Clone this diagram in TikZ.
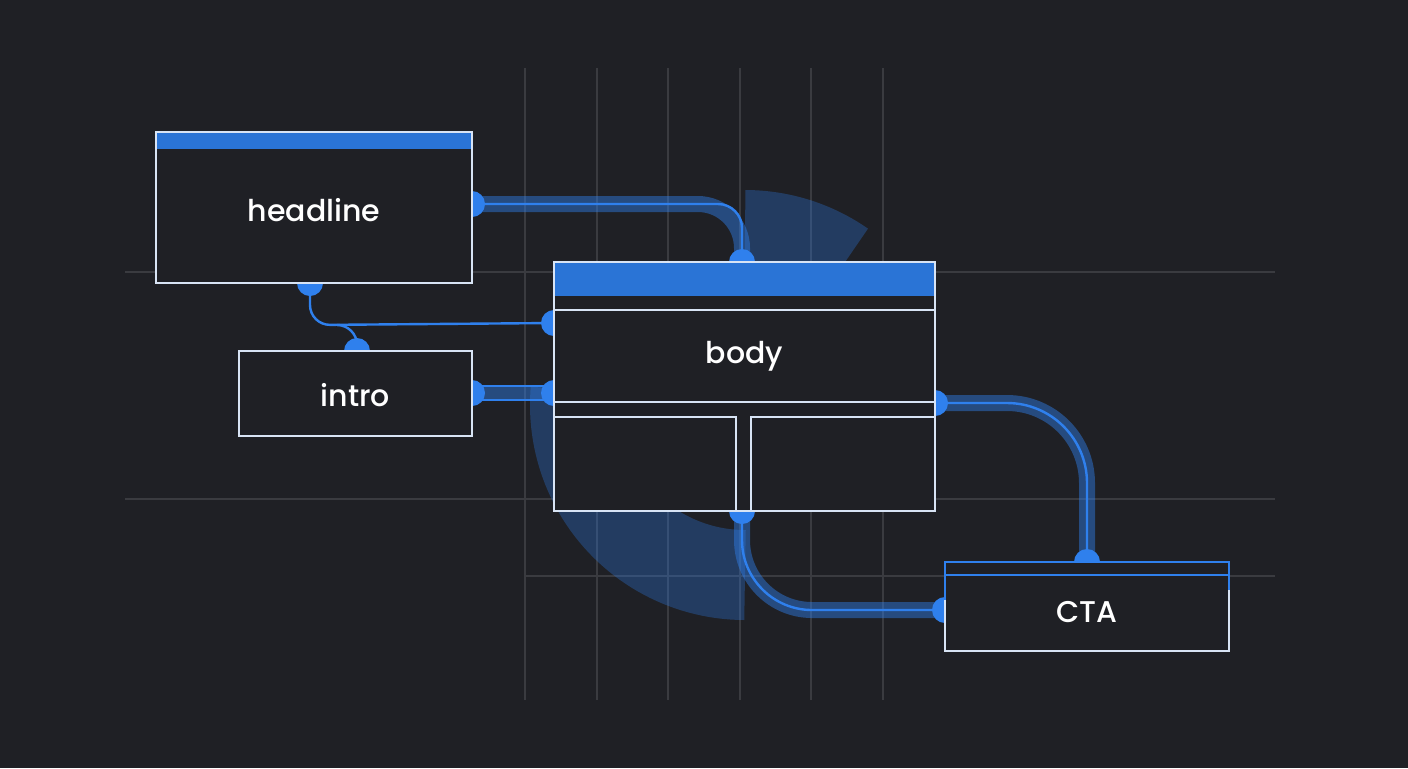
\documentclass[tikz,border=0pt]{standalone}
\usepackage{fontspec}
\setmainfont{Poppins}[UprightFont=* Medium]
\usetikzlibrary{positioning}
\definecolor{bg}{HTML}{1F2025}
\definecolor{grid}{HTML}{3A3B40}
\definecolor{wire}{HTML}{2F80ED}
\definecolor{bar}{HTML}{2A74D6}
\definecolor{edge}{HTML}{D8E4F5}
\tikzset{
  box/.style={draw=edge,line width=1.2pt,fill=bg,text=white,font=\fontsize{15}{18}\selectfont,inner sep=0pt},
  header/.style={path picture={\fill[bar] ([yshift=-#1]path picture bounding box.north west) rectangle (path picture bounding box.north east);}},
  band/.style={wire,opacity=.45,line width=8pt,rounded corners=22pt},
  thin/.style={wire,line width=1.2pt,rounded corners=12pt},
  dot/.style={fill=wire,circle,minimum size=13pt,inner sep=0pt}
}
\begin{document}
\begin{tikzpicture}[x=0.5pt,y=-0.5pt]
  \fill[bg] (0,0) rectangle (1408,768);
  \useasboundingbox (0,0) rectangle (1408,768);
  % grid
  \foreach \gx in {525,597,668,740,811,883}
    \draw[grid,line width=.6pt] (\gx,68) -- (\gx,700);
  \draw[grid,line width=.6pt] (125,272) -- (1275,272);
  \draw[grid,line width=.6pt] (125,499) -- (1275,499);
  \draw[grid,line width=.6pt] (525,576) -- (1275,576);
  % faded ring
  \draw[wire,opacity=.3,line width=45pt] (745,405) ++(-90:170) arc[start angle=-90,end angle=-55,radius=170];
  \draw[wire,opacity=.3,line width=45pt] (745,405) ++(90:170) arc[start angle=90,end angle=185,radius=170];

  % boxes (placed first so connectors can name them)
  \path
    node[box,minimum width=158pt,minimum height=75.5pt] (head) at (314,207.5) {}
    node[box,minimum width=116.5pt,minimum height=42.5pt] (intro) at (355.5,393.5) {}
    node[box,minimum width=190.5pt,minimum height=124.5pt] (body) at (744.5,386.5) {}
    node[box,minimum width=142pt,minimum height=44.5pt] (cta) at (1087,606.5) {};

  % connection points
  \coordinate (hR) at (472,204);
  \coordinate (hB) at (310,283);
  \coordinate (bT) at (742,262);
  \coordinate (bL1) at (554,323);
  \coordinate (bL2) at (554,393);
  \coordinate (iR) at (472,393);
  \coordinate (iT) at (357,351);
  \coordinate (bR) at (935,403);
  \coordinate (bB) at (742,511);
  \coordinate (cT) at (1087,562);
  \coordinate (cL) at (945,610);

  % wires
  \draw[band] (hR) -- (742,204) -- (bT);
  \draw[thin] (hR) -- (742,204) -- (bT);
  \draw[band,rounded corners=0pt] (iR) -- (bL2);
  \draw[wire,line width=1.2pt] (472,386) -- (554,386) (472,400) -- (554,400);
  \draw[thin,rounded corners=10pt] (hB) -- (310,325) -- (bL1);
  \draw[thin,rounded corners=10pt] (iT) -- (357,325) -- (340,325);
  \draw[band,rounded corners=40pt] (bR) -- (1087,403) -- (cT);
  \draw[thin,rounded corners=40pt] (bR) -- (1087,403) -- (cT);
  \draw[band,rounded corners=35pt] (bB) -- (742,610) -- (cL);
  \draw[thin,rounded corners=35pt] (bB) -- (742,610) -- (cL);

  \foreach \p in {hR,hB,bT,bL1,bL2,iR,iT,bR,bB,cT,cL}
    \node[dot] at (\p) {};

  % boxes on top
  \node[box,header=8.5pt,minimum width=158pt,minimum height=75.5pt] at (head) {};
  \node[box,minimum width=116.5pt,minimum height=42.5pt] at (intro) {};
  \node[box,header=17pt,minimum width=190.5pt,minimum height=124.5pt] at (body) {};
  \node[box,draw=wire,minimum width=142pt,minimum height=44.5pt] at (cta) {};
  \draw[edge,line width=1.2pt] (554,310) -- (935,310) (554,402) -- (935,402);
  \draw[edge,line width=1.2pt] (554,417) -- (736,417) -- (736,511);
  \draw[edge,line width=1.2pt] (751,511) -- (751,417) -- (935,417);
  \draw[wire,line width=1.2pt] (945,575) -- (1229,575);
  \draw[edge,line width=1.2pt] (945,600) |- (1229,651) -- (1229,590);

  % labels
  \node[text=white,font=\fontsize{15}{18}\selectfont] at (314,210) {headline};
  \node[text=white,font=\fontsize{15}{18}\selectfont] at (355.5,395) {intro};
  \node[text=white,font=\fontsize{15}{18}\selectfont] at (744.5,356) {body};
  \node[text=white,font=\fontsize{15}{18}\selectfont] at (1087,612) {CTA};
\end{tikzpicture}
\end{document}
